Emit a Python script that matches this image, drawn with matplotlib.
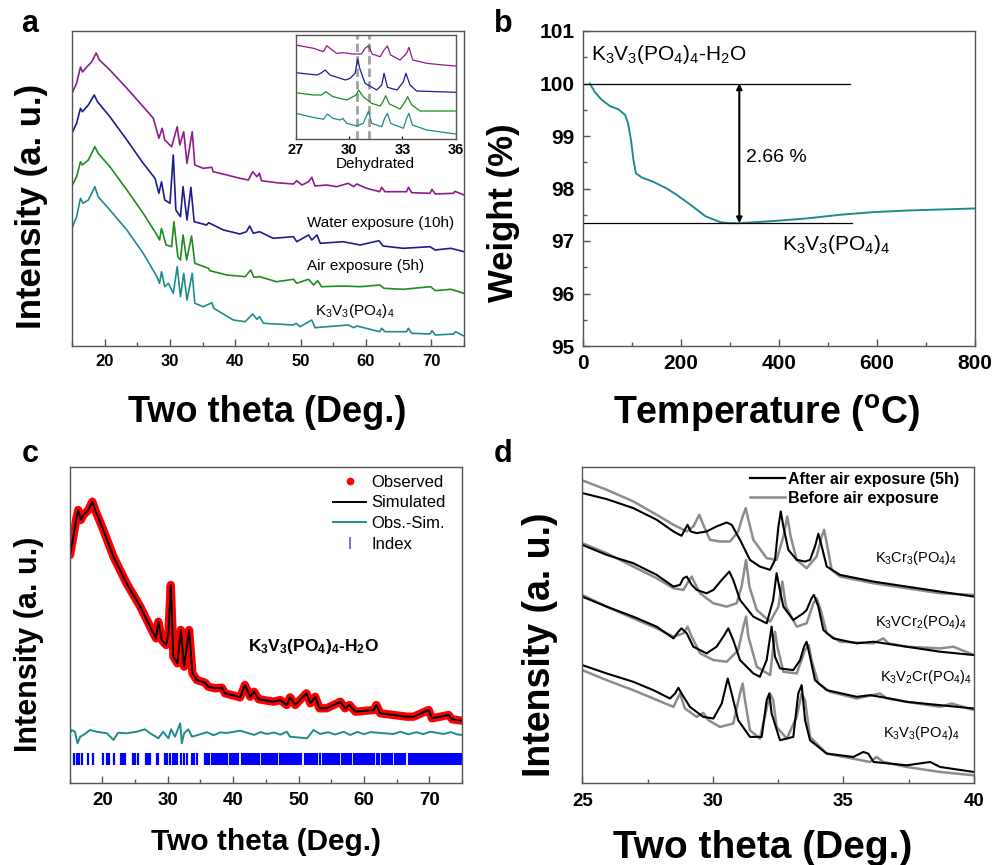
import numpy as np
import matplotlib
matplotlib.use("Agg")
import matplotlib.pyplot as plt
from matplotlib.lines import Line2D
from matplotlib.ticker import MultipleLocator

plt.rcParams.update({
    "font.family": ["Liberation Sans", "DejaVu Sans"],
    "mathtext.default": "regular",
    "axes.edgecolor": "#555555",
    "axes.linewidth": 1.0,
    "xtick.direction": "in",
    "ytick.direction": "in",
})

PURPLE = "#8e1c8e"
NAVY = "#1c1c8e"
GREEN = "#1e8c1e"
TEAL = "#1e8c8c"
GREY = "#8c8c8c"

# ---------------- (a) XRD after exposure, offset stacks (2theta, a.u.)
a_dehyd = np.array([
    [15.0, 252.7], [15.7, 262.7], [16.3, 279], [16.6, 274], [17.25, 279], [18.0, 284],
    [18.7, 293], [19.2, 286], [20.8, 276], [23.4, 257.7], [25.9, 239.3], [27.45, 227.7],
    [28.3, 207.7], [28.8, 217.7], [29.2, 206], [30.25, 199.3], [31.1, 219.3], [31.5, 201],
    [32.1, 214.3], [32.6, 182.7], [33.4, 214.3], [33.8, 181], [35.1, 177.7], [36.4, 178.7],
    [36.6, 174.3], [38.7, 171], [40.7, 167.7], [42.0, 166], [42.65, 174.3], [43.3, 169.3],
    [43.7, 172.7], [44.0, 165.3], [46.3, 163.3], [48.9, 162], [49.4, 165.3], [50.2, 161],
    [51.2, 164.3], [51.7, 168.7], [52.2, 160], [54.0, 161], [55.5, 159.3], [57.3, 162.7],
    [58.1, 159.3], [58.6, 162], [60.1, 157.7], [62.1, 154.3], [62.4, 158.7], [62.9, 154.3],
    [66.2, 154.3], [66.5, 158.7], [67.0, 153.3], [69.8, 152.7], [70.1, 156.7], [70.6, 152],
    [73.4, 152.7], [73.6, 154.7], [75.0, 151]])
a_water = np.array([
    [15, 212.7], [15.7, 222.7], [16.3, 237.7], [16.6, 234.3], [17.5, 241], [18.4, 251],
    [18.9, 244.3], [20.8, 229.3], [23.4, 206], [25.9, 182.7], [27.7, 167.7], [28.3, 152.7],
    [28.7, 164.3], [29.2, 146], [30.0, 142.7], [30.5, 191], [30.9, 136], [31.6, 129.3],
    [32.0, 159.3], [32.6, 126], [33.2, 158.7], [33.7, 124.3], [35.6, 121], [35.9, 123.3],
    [38.2, 116], [40.7, 112], [41.7, 114.3], [42.2, 120], [42.75, 112.7], [43.7, 114.3],
    [45.8, 107.7], [48.9, 109.3], [49.4, 104.3], [51.2, 111], [51.7, 106], [52.5, 111],
    [53.0, 102.7], [56.5, 104.3], [59.1, 101], [62.0, 105.3], [62.6, 100], [65.7, 97.7],
    [69.8, 99.3], [70.6, 96], [73.0, 97.7], [75, 94.3]])
a_air = np.array([
    [15, 160], [15.7, 169.3], [16.3, 184.3], [16.6, 181], [17.5, 186], [18.5, 199.3],
    [19.0, 192.7], [20.8, 179.3], [23.4, 156], [25.9, 132.7], [28.0, 111], [28.4, 106],
    [28.7, 117.7], [29.4, 101], [30.25, 99.3], [30.6, 124.3], [31.2, 89.3], [31.6, 86],
    [32.0, 111], [32.55, 86], [33.3, 110], [33.8, 82.7], [35.9, 77.7], [36.1, 75.3],
    [38.7, 71], [41.5, 69.3], [42.35, 76], [42.85, 68.7], [43.7, 69.3], [46.3, 64.3],
    [48.9, 66.7], [49.4, 62.7], [51.2, 66.7], [52.0, 61], [52.6, 65.3], [53.2, 59.3],
    [56.5, 60], [59.1, 59.3], [62.1, 61], [62.75, 57.7], [65.7, 56.7], [69.9, 59.3],
    [70.6, 55.3], [73.0, 56.7], [75, 52.7]])
a_pristine = np.array([
    [15, 117.7], [15.7, 129.3], [16.3, 147.7], [16.7, 142.7], [17.5, 146], [18.5, 159.3],
    [19.0, 149.3], [20.8, 136], [23.4, 116], [25.9, 92.7], [28.0, 69.3], [28.4, 62.7],
    [28.7, 74.3], [29.2, 59.3], [29.75, 62.7], [30.5, 52.7], [31.1, 79.3], [31.6, 49.3],
    [32.1, 72.7], [32.6, 46], [33.4, 72.7], [33.8, 42.7], [35.1, 39.3], [36.4, 43.3],
    [36.7, 37.7], [39.7, 26], [41.5, 24.3], [42.65, 32], [43.3, 26.7], [43.7, 29.3],
    [44.3, 22.7], [48.9, 21], [49.3, 22.7], [49.9, 19.3], [51.7, 26], [52.2, 18.3],
    [57.3, 21], [58.1, 18.3], [58.6, 20], [62.1, 14.3], [62.4, 17.7], [62.9, 14.3],
    [66.2, 14.3], [66.5, 17.7], [67.0, 12.7], [69.8, 12], [70.1, 15.3], [70.6, 11],
    [73.4, 12], [73.7, 14.3], [75, 10]])

# inset: 27-36 deg window of the same four patterns
in_dehyd = np.array([
    [27, 94], [28.0, 90.7], [28.56, 87.3], [28.74, 93.3], [29.0, 89.7], [29.3, 85.7],
    [29.7, 86.3], [30.2, 85], [30.7, 85], [30.9, 90.7], [31.1, 93.3], [31.3, 85],
    [31.75, 82.3], [31.97, 89], [32.16, 93], [32.34, 84], [32.87, 79], [33.24, 85.7],
    [33.37, 91.7], [33.58, 79], [34.37, 75.7], [35.3, 74], [36, 73]])
in_water = np.array([
    [27, 66.3], [28.2, 64], [28.46, 66.3], [28.65, 69], [28.93, 64], [29.5, 60.7],
    [29.8, 59], [30.06, 60.7], [30.34, 65.7], [30.49, 80], [30.6, 70.7], [30.9, 55.7],
    [31.56, 49], [31.84, 54], [31.97, 65.7], [32.16, 51.7], [32.7, 49], [33.06, 57.3],
    [33.2, 65.7], [33.43, 54], [33.8, 48], [36, 46.7]])
in_air = np.array([
    [27, 46.3], [28.0, 44], [28.46, 44], [28.69, 47.3], [29.1, 42.3], [29.87, 39],
    [30.4, 44], [30.54, 49], [30.8, 42.3], [31.27, 35.7], [31.75, 33], [31.9, 37],
    [32.06, 43.3], [32.27, 35], [32.87, 30], [33.15, 37.3], [33.3, 42.3], [33.53, 34],
    [34.0, 28], [36, 28]])
in_pristine = np.array([
    [27, 25.7], [27.8, 22.3], [28.56, 19.7], [28.78, 25], [29.1, 20.7], [29.5, 19],
    [29.64, 20.7], [29.87, 15.7], [30.43, 13], [30.8, 15.7], [31.1, 28], [31.27, 15.7],
    [31.84, 12.3], [32.0, 20.7], [32.16, 25.7], [32.34, 15.7], [33.06, 10.7], [33.24, 20.7],
    [33.37, 25.7], [33.56, 14], [34.37, 9], [36, 5]])
in_markers = [30.47, 31.14]

# ---------------- (b) TGA (temperature C, weight %)
tga = np.array([
    [14, 100.0], [24, 99.84], [38, 99.69], [55, 99.57], [72, 99.51], [86, 99.40],
    [92, 99.24], [98, 98.92], [103, 98.54], [108, 98.29], [120, 98.21], [143, 98.13],
    [171, 98.00], [191, 97.88], [218, 97.70], [250, 97.47], [280, 97.36], [300, 97.34],
    [320, 97.34], [388, 97.38], [457, 97.43], [525, 97.50], [592, 97.55], [661, 97.58],
    [729, 97.60], [800, 97.62]])
w_start, w_end = 100.0, 97.34
t_arrow = 319

# ---------------- (c) refinement of the hydrated phase
c_obs = np.array([
    [15.05, 227.7], [15.55, 246], [16.07, 266], [16.3, 272.7], [16.7, 262.7], [17.1, 267.7],
    [17.85, 272.7], [18.46, 281], [18.9, 272.7], [20.15, 252.7], [21.7, 226], [23.7, 199.4],
    [25.8, 176], [27.8, 149.4], [28.2, 144.4], [28.56, 161], [29.08, 142.7], [29.74, 137.7],
    [30.1, 149.4], [30.46, 197.7], [30.86, 126], [31.47, 119.4], [32.0, 152.7], [32.5, 116],
    [33.26, 152.7], [33.77, 109.4], [34.44, 102.7], [35.7, 100], [36.2, 96], [37.24, 94.4],
    [38.26, 95], [38.77, 89.4], [41.07, 85.4], [41.8, 97.7], [42.6, 86], [43.2, 91],
    [43.9, 83.4], [46.2, 81], [47.2, 82.7], [48.2, 77.7], [48.7, 85.4], [49.5, 77.7],
    [51.2, 89.4], [51.8, 79.4], [52.55, 86], [53.2, 74.4], [54.3, 74.4], [56.4, 81],
    [57.1, 74.4], [57.8, 77.7], [58.7, 71], [61.5, 72.7], [61.9, 77.7], [62.5, 69.4],
    [66.6, 66], [67.6, 66], [69.9, 72.7], [70.4, 64.4], [72.95, 67.7], [73.5, 63.4],
    [75, 62]])
c_sim = c_obs.copy()
c_diff = np.array([
    [15.05, 49.4], [15.3, 52.7], [15.8, 51], [16.2, 39.4], [16.6, 46], [17.1, 47.7],
    [18.1, 52.7], [19.1, 51], [20.7, 49.4], [21.7, 42.7], [22.4, 50], [23.7, 49.4],
    [25.25, 51], [26.5, 53.4], [27.3, 49.4], [28.56, 44.4], [29.3, 51], [30.1, 44.4],
    [30.5, 53.4], [31.1, 46], [31.9, 59.4], [32.15, 39.4], [32.5, 49.4], [33.15, 53.4],
    [33.7, 46], [34.95, 48.4], [36.0, 50.5], [37.0, 47.5], [38.0, 50.3], [39.0, 49.7],
    [41.07, 52], [42.1, 50], [43.2, 47.8], [44.2, 50.6], [45.15, 48.7], [46.3, 50.2],
    [47.2, 48], [48.2, 51], [48.7, 46], [51.3, 44.4], [52.3, 52.7], [53.3, 48.7],
    [54.5, 50.5], [55.6, 48.2], [56.9, 51], [57.9, 47.7], [59.0, 50.8], [60.0, 48.5],
    [61.0, 50.6], [62.0, 50], [64.5, 48.7], [65.6, 51], [66.8, 48.4], [68.0, 50.5],
    [69.1, 48.6], [70.15, 51], [72.2, 48.7], [73.3, 50.6], [74.2, 48.4], [75, 47.7]])
c_index = [
    15.66, 16.07, 16.42, 16.88, 17.85, 18.52, 20.15, 20.66, 21.02, 21.78, 22.85, 23.2,
    23.51, 24.74, 25.0, 25.4, 26.68, 27.03, 27.29, 28.3, 28.56, 29.58, 29.94, 30.35,
    30.86, 31.12, 31.47, 31.99, 32.54, 32.9, 33.67, 34.03, 34.44, 35.71, 35.97, 36.32,
    36.73, 36.98,
    37.20, 37.50, 37.80, 38.10, 38.40, 38.70, 39.00, 39.55, 39.85, 40.15, 40.40, 40.75,
    41.30, 41.60, 41.90, 42.20, 42.50, 42.75, 43.05, 43.35, 43.65, 43.90, 44.35, 44.65,
    44.95, 45.25, 45.55, 45.85, 46.15, 46.45, 46.70, 47.15, 47.45, 47.75, 48.05, 48.35,
    48.65, 48.95, 49.25, 49.55, 49.85, 50.15, 50.45, 51.00, 51.30, 51.60, 51.90, 52.20,
    52.50, 52.80, 53.30, 53.80, 54.10, 54.40, 54.70, 55.00, 55.30, 55.60, 55.90, 56.15,
    56.60, 56.90, 57.20, 57.50, 57.80, 58.05, 58.55, 58.85, 59.15, 59.45, 59.75, 60.05,
    60.35, 60.65, 60.95, 61.25, 61.50, 61.95, 62.25, 62.75, 63.05, 63.35, 63.65, 63.95,
    64.30, 64.80, 65.10, 65.40, 65.70, 66.00, 66.30, 66.85, 67.15, 67.45, 67.75, 68.05,
    68.35, 68.65, 68.95, 69.25, 69.55, 69.85, 70.15, 70.45, 70.75, 71.05, 71.35, 71.65,
    71.95, 72.25, 72.55, 72.85, 73.15, 73.45, 73.75, 74.05, 74.35, 74.65, 74.90]
index_lo, index_hi = 17.7, 30.0

# ---------------- (d) before / after 5 h in air, four compositions
d_cr3_after = np.array([
    [25.00, 900], [25.93, 882], [26.95, 855], [27.85, 820], [28.49, 785], [28.80, 772],
    [28.96, 795], [29.03, 805], [29.15, 785], [29.38, 780], [29.76, 785], [30.14, 800],
    [30.53, 812], [30.72, 805], [31.04, 760], [31.42, 700], [31.80, 680], [32.19, 670],
    [32.38, 700], [32.51, 800], [32.60, 845], [32.70, 800], [32.89, 730], [33.21, 700],
    [33.53, 695], [33.72, 700], [33.91, 740], [34.04, 778], [34.17, 740], [34.36, 680],
    [34.87, 655], [36.15, 635], [37.42, 620], [38.70, 605], [40.00, 590]])
d_cr3_before = np.array([
    [25.00, 938], [25.93, 910], [26.95, 875], [27.85, 835], [28.49, 805], [29.00, 785],
    [29.25, 800], [29.48, 835], [29.66, 800], [29.89, 760], [30.27, 755], [30.66, 755],
    [30.97, 785], [31.14, 830], [31.26, 855], [31.36, 820], [31.55, 760], [32.06, 705],
    [32.44, 700], [32.70, 770], [32.85, 830], [32.98, 770], [33.21, 700], [33.59, 675],
    [33.97, 710], [34.17, 770], [34.26, 790], [34.36, 750], [34.55, 670], [34.87, 650],
    [36.15, 630], [37.42, 615], [38.70, 600], [40.00, 595]])
d_vcr2_after = np.array([
    [25.00, 745], [25.93, 715], [26.95, 690], [27.85, 655], [28.49, 620], [28.74, 625],
    [28.87, 645], [29.00, 650], [29.19, 625], [29.38, 610], [29.76, 600], [30.02, 610],
    [30.34, 640], [30.63, 665], [30.78, 640], [31.04, 580], [31.55, 530], [32.06, 510],
    [32.31, 580], [32.44, 660], [32.54, 620], [32.70, 560], [33.08, 520], [33.46, 540],
    [33.59, 550], [33.78, 585], [33.87, 595], [34.04, 560], [34.23, 490], [34.61, 465],
    [35.51, 450], [36.15, 455], [37.42, 440], [38.70, 425], [40.00, 415]])
d_vcr2_before = np.array([
    [25.00, 750], [25.93, 720], [26.95, 680], [27.85, 645], [28.49, 615], [28.87, 610],
    [29.06, 635], [29.19, 650], [29.31, 630], [29.51, 600], [30.02, 570], [30.53, 560],
    [30.91, 570], [31.10, 620], [31.27, 700], [31.40, 620], [31.68, 550], [32.19, 515],
    [32.51, 560], [32.66, 635], [32.80, 560], [33.21, 500], [33.59, 510], [33.85, 570],
    [33.97, 585], [34.13, 550], [34.36, 480], [34.87, 455], [36.15, 450], [36.53, 465],
    [36.72, 450], [37.42, 440], [38.70, 435], [39.21, 440], [40.00, 415]])
d_v2cr_after = np.array([
    [25.00, 590], [25.93, 560], [26.95, 530], [27.85, 500], [28.49, 465], [28.68, 485],
    [28.80, 495], [29.00, 480], [29.25, 440], [29.76, 420], [30.14, 440], [30.40, 470],
    [30.59, 495], [30.78, 460], [31.04, 400], [31.55, 360], [31.80, 350], [32.06, 400],
    [32.25, 500], [32.38, 410], [32.57, 375], [33.08, 370], [33.34, 400], [33.49, 440],
    [33.59, 455], [33.72, 410], [33.91, 340], [34.36, 310], [35.51, 290], [36.02, 295],
    [36.78, 285], [37.42, 275], [38.70, 265], [40.00, 255]])
d_v2cr_before = np.array([
    [25.00, 595], [25.93, 560], [26.95, 525], [27.85, 495], [28.49, 470], [28.87, 480],
    [29.03, 500], [29.19, 470], [29.51, 420], [30.02, 400], [30.53, 395], [30.97, 430],
    [31.17, 500], [31.27, 530], [31.36, 470], [31.68, 380], [32.19, 355], [32.38, 485],
    [32.47, 440], [32.70, 365], [33.21, 360], [33.53, 430], [33.67, 445], [33.78, 400],
    [34.04, 330], [34.49, 305], [35.51, 285], [36.40, 300], [36.66, 285], [37.42, 275],
    [38.70, 260], [39.15, 270], [40.00, 250]])
d_v3_after = np.array([
    [25.00, 385], [25.93, 360], [26.95, 335], [27.72, 310], [28.36, 285], [28.55, 300],
    [28.68, 317], [28.80, 300], [29.12, 260], [29.63, 230], [30.02, 225], [30.34, 270],
    [30.57, 345], [30.72, 300], [30.97, 220], [31.42, 170], [31.87, 170], [32.06, 280],
    [32.16, 300], [32.25, 240], [32.57, 160], [33.08, 170], [33.27, 300], [33.40, 325],
    [33.53, 220], [33.72, 160], [34.36, 120], [35.38, 110], [35.76, 125], [35.95, 120],
    [36.15, 95], [37.42, 85], [38.32, 95], [38.70, 80], [40.00, 65]])
d_v3_before = np.array([
    [25.00, 370], [25.93, 340], [26.95, 310], [27.72, 285], [28.49, 260], [28.74, 300],
    [28.93, 255], [29.38, 230], [29.63, 242], [29.83, 220], [30.27, 200], [30.78, 210],
    [31.04, 300], [31.14, 330], [31.23, 280], [31.42, 190], [31.80, 165], [32.19, 300],
    [32.31, 280], [32.44, 200], [32.83, 165], [33.21, 230], [33.40, 300], [33.53, 280],
    [33.72, 170], [34.36, 120], [36.02, 95], [36.27, 110], [36.53, 95], [37.42, 80],
    [38.70, 65], [40.00, 55]])
d_names = [r"K$_3$Cr$_3$(PO$_4$)$_4$", r"K$_3$VCr$_2$(PO$_4$)$_4$",
           r"K$_3$V$_2$Cr(PO$_4$)$_4$", r"K$_3$V$_3$(PO$_4$)$_4$"]

W, H = 996, 865
fig = plt.figure(figsize=(W / 100, H / 100), dpi=100)


def box(l, t, r, b):
    return fig.add_axes([l / W, 1 - b / H, (r - l) / W, (b - t) / H])


def ftext(x, y, s, **kw):
    kw.setdefault("ha", "center")
    kw.setdefault("va", "center")
    return fig.text(x / W, 1 - y / H, s, **kw)


def bold_ticks(ax, size, pad=4):
    ax.tick_params(which="both", labelsize=size, pad=pad, width=1, color="#555555")
    ax.tick_params(which="major", length=5)
    ax.tick_params(which="minor", length=3)
    for lbl in ax.get_xticklabels() + ax.get_yticklabels():
        lbl.set_fontweight("bold")


# ---- a
ax = box(72, 31, 464, 346)
for arr, col in ((a_dehyd, PURPLE), (a_water, NAVY), (a_air, GREEN), (a_pristine, TEAL)):
    ax.plot(arr[:, 0], arr[:, 1], color=col, lw=1.2)
ax.set_xlim(15, 75)
ax.set_ylim(0, 315)
ax.set_yticks([])
ax.xaxis.set_major_locator(MultipleLocator(10))
ax.xaxis.set_minor_locator(MultipleLocator(5))
bold_ticks(ax, 12, pad=6)
ftext(307, 223, "Water exposure (10h)", ha="left", fontsize=11)
ftext(307, 266, "Air exposure (5h)", ha="left", fontsize=11)
ftext(315, 311, r"K$_3$V$_3$(PO$_4$)$_4$", ha="left", fontsize=11)

ins = box(295.7, 34.7, 455.7, 139)
for xv in in_markers:
    ins.axvline(xv, color="#a0a0a0", lw=2, ls=(0, (3, 1.5)))
for arr, col in ((in_dehyd, PURPLE), (in_water, NAVY), (in_air, GREEN), (in_pristine, TEAL)):
    ins.plot(arr[:, 0], arr[:, 1], color=col, lw=0.9)
ins.set_xlim(27, 36)
ins.set_ylim(0, 104.3)
ins.set_yticks([])
ins.set_xticks([27, 30, 33, 36])
ins.tick_params(length=2, labelsize=10.5, pad=3)
for lbl in ins.get_xticklabels():
    lbl.set_fontweight("bold")
ftext(375.5, 164, "Dehydrated", fontsize=11)

# ---- b
axb = box(583, 31, 975, 346)
axb.plot(tga[:, 0], tga[:, 1], color=TEAL, lw=1.4)
axb.plot([0, 545], [w_start, w_start], color="black", lw=0.9)
axb.plot([0, 548], [w_end, w_end], color="black", lw=0.9)
axb.annotate("", xy=(t_arrow, w_end), xytext=(t_arrow, w_start),
             arrowprops=dict(arrowstyle="<|-|>", color="black", lw=1.5,
                             mutation_scale=8, shrinkA=0, shrinkB=0))
axb.set_xlim(0, 800)
axb.set_ylim(95, 101)
axb.xaxis.set_major_locator(MultipleLocator(200))
axb.xaxis.set_minor_locator(MultipleLocator(100))
axb.yaxis.set_major_locator(MultipleLocator(1))
axb.yaxis.set_minor_locator(MultipleLocator(0.5))
bold_ticks(axb, 15, pad=6)
ftext(591, 55, r"K$_3$V$_3$(PO$_4$)$_4$-H$_2$O", ha="left", fontsize=15)
ftext(746, 157, f"{w_start - w_end:.2f} %", ha="left", fontsize=14)
ftext(782, 244, r"K$_3$V$_3$(PO$_4$)$_4$", ha="left", fontsize=15)

# ---- c
axc = box(69.7, 467, 462, 782.7)
axc.plot(c_obs[:, 0], c_obs[:, 1], color="red", lw=6, solid_joinstyle="round",
         solid_capstyle="round")
axc.plot(c_sim[:, 0], c_sim[:, 1], color="black", lw=1.4)
axc.plot(c_diff[:, 0], c_diff[:, 1], color=TEAL, lw=1.4)
axc.vlines(c_index, index_lo, index_hi, color="#0000ff", lw=1.6)
axc.set_xlim(15, 75)
axc.set_ylim(0, 315.7)
axc.set_yticks([])
axc.xaxis.set_major_locator(MultipleLocator(10))
axc.xaxis.set_minor_locator(MultipleLocator(5))
bold_ticks(axc, 13.5, pad=7)
handles = [
    Line2D([], [], ls="none", marker="o", ms=4.5, color="red"),
    Line2D([], [], color="black", lw=1.4),
    Line2D([], [], color=TEAL, lw=1.4),
    Line2D([], [], ls="none", marker="|", ms=9, mew=1.2, color="#5a5ad0"),
]
axc.legend(handles, ["Observed", "Simulated", "Obs.-Sim.", "Index"],
           loc="upper left", bbox_to_anchor=(0.671, 0.976), frameon=False,
           fontsize=12, handlelength=2.0, handletextpad=0.3, labelspacing=0.35,
           borderpad=0, borderaxespad=0)
ftext(248, 646, r"K$_3$V$_3$(PO$_4$)$_4$-H$_2$O", ha="left", fontsize=12.5,
      fontweight="bold")

# ---- d
axd = box(582.3, 467, 974, 783)
pairs = [(d_cr3_after, d_cr3_before), (d_vcr2_after, d_vcr2_before),
         (d_v2cr_after, d_v2cr_before), (d_v3_after, d_v3_before)]
for after, before in pairs:
    axd.plot(before[:, 0], before[:, 1], color=GREY, lw=1.8)
    axd.plot(after[:, 0], after[:, 1], color="black", lw=1.5)
axd.set_xlim(25, 40)
axd.set_ylim(32, 978)
axd.set_yticks([])
axd.xaxis.set_major_locator(MultipleLocator(5))
axd.xaxis.set_minor_locator(MultipleLocator(2.5))
bold_ticks(axd, 13.5, pad=7)
dh = [Line2D([], [], color="black", lw=1.6), Line2D([], [], color=GREY, lw=1.8)]
leg = axd.legend(dh, ["After air exposure (5h)", "Before air exposure"],
                 loc="upper left", bbox_to_anchor=(0.428, 0.984), frameon=False,
                 handlelength=2.2, handletextpad=0.2, labelspacing=0.25,
                 borderpad=0, borderaxespad=0,
                 prop=dict(size=11.5, weight="bold"))
for (x, y), name in zip([(875, 558), (875, 622), (880, 677), (883, 733)], d_names):
    ftext(x, y, name, ha="left", fontsize=10.5)

# ---- axis titles and panel letters
lab = dict(fontweight="bold")
ftext(31, 206, "Intensity (a. u.)", rotation=90, fontsize=25, **lab)
ftext(267.5, 412, "Two theta (Deg.)", fontsize=26, **lab)
ftext(504, 213, "Weight (%)", rotation=90, fontsize=25, **lab)
ftext(767, 413, r"Temperature ($^{o}$C)", fontsize=27, **lab)
ftext(29.5, 644, "Intensity (a. u.)", rotation=90, fontsize=22, **lab)
ftext(266, 842, "Two theta (Deg.)", fontsize=21.5, **lab)
ftext(540, 645, "Intensity (a. u.)", rotation=90, fontsize=27, **lab)
ftext(763, 848, "Two theta (Deg.)", fontsize=28, **lab)
for x, y, s in ((30, 24, "a"), (503, 24, "b"), (30, 454, "c"), (503, 454, "d")):
    ftext(x, y, s, fontsize=22, **lab)

fig.savefig("out.png", dpi=100, facecolor="white")
